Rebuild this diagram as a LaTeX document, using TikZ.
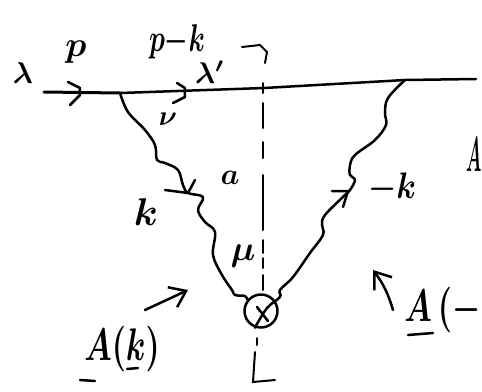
\documentclass[tikz,border=0pt]{standalone}
\usetikzlibrary{arrows.meta}
\tikzset{
	hand/.style={line width=0.5mm,line cap=round,line join=round},
	cut/.style={line width=0.4mm,line cap=round},
	handlabel/.style={inner sep=0pt,font=\boldmath},
	biglabel/.style={handlabel,xscale=1.8,yscale=2.6},
	bigarrow/.style={hand,-{Straight Barb[length=3mm,width=4.4mm]}}
}
\begin{document}
\begin{tikzpicture}[x=0.2mm,y=-0.2mm]
		\path[use as bounding box,clip] (0,0) rectangle (482,391);
		
		% Punkte auf der Linie
		\coordinate (in) at (44,92);
		\coordinate (va) at (120,93);
		\coordinate (cutpt) at (264,88);
		\coordinate (vb) at (405,80);
		\coordinate (out) at (476,79);
		
		% Vertex unten
		\node[circle,draw,hand,minimum size=6.6mm,inner sep=0pt] (vx) at (261,311) {};
		\draw[hand] (257,307) -- (268,321);
		
		% Fermionlinie
		\draw[line width=0.6mm,line cap=round] (in) -- (va);
		\draw[hand] (va) -- (cutpt) -- (vb) -- (out);
		
		% Pfeile auf der Linie
		\draw[hand] (68,82) -- (80,88) -- (80,95) -- (70,105);
		\draw[hand] (177,83) -- (185,88) -- (185,97) -- (173,103);
		
		% Linke Welle
		\draw[hand] plot[smooth,tension=0.6] coordinates {(va) (128,112) (145,130) (155,145) (157,160) (165,163) (178,170) (183,185) (188,193) (203,197) (198,210) (205,222) (215,232) (213,255) (222,275) (232,290) (235,295) (245,296) (vx.140)};
		\draw[hand] (165,190) -- (188,193) -- (195,180);
		
		% Rechte Welle
		\draw[hand] plot[smooth,tension=0.6] coordinates {(vb) (388,98) (385,113) (386,125) (375,140) (355,155) (350,165) (350,175) (355,180) (350,190) (345,195) (325,215) (322,225) (323,235) (310,253) (293,277) (280,290) (280,297) (267,308) (vx.250)};
		\draw[hand] (332,191) -- (348,191) -- (343,207);
		
		% Schnitt
		\draw[cut] (242,47) -- (260,45) -- (267,52) -- (265,63);
		\draw[cut] (263,83) -- (263,93);
		\foreach \ya/\yb in {103/128,142/158,175/230,240/253,258/268,275/290}
		\draw[cut] (263,\ya) -- (263,\yb);
		\draw[cut] (257,338) -- (257,345);
		\draw[cut] (255,352) -- (253,382) -- (275,380);
		
		% Grosse Pfeile
		\coordinate (arrowa) at (145,310);
		\coordinate (tipa) at (188,290);
		\coordinate (arrowb) at (393,310);
		\coordinate (tipb) at (373,270);
		\draw[bigarrow] (arrowa) -- (tipa);
		\draw[bigarrow] (arrowb) to[bend right=10] (tipb);
		
		% Beschriftung
		\node[handlabel,scale=1.7] (lambdain) at (23,73) {$\lambda$};
		\node[handlabel,scale=2.0] (plabel) at (76,52) {$p$};
		\node[handlabel,xscale=1.5,yscale=2.2] (pklabel) at (177,42) {$p{-}k$};
		\node[handlabel,scale=1.7] (lambdaout) at (210,72) {$\lambda'$};
		\node[handlabel,scale=1.6] (nulabel) at (168,119) {$\nu$};
		\node[handlabel,scale=1.7] (alabel) at (230,178) {$a$};
		\node[handlabel,scale=2.2] (klabel) at (146,212) {$k$};
		\node[handlabel,scale=2.0] (mulabel) at (243,256) {$\mu$};
		\node[handlabel,xscale=1.8,yscale=2.1] (mklabel) at (392,188) {$-k$};
		\node[handlabel,xscale=1.0,yscale=2.8,anchor=east] (arightcut) at (482,155) {$A$};
		
		% A(k) unten links
		\node[biglabel] (akleft) at (122,349) {$A(k)$};
		\draw[hand] (80,380) -- (95,381);
		\draw[hand] (127,369) -- (138,368);
		
		% A(- rechts
		\node[biglabel,anchor=east] (akright) at (481,310) {$A\,({-}$};
		\draw[hand] (408,335) -- (433,333);
\end{tikzpicture}
\end{document}
